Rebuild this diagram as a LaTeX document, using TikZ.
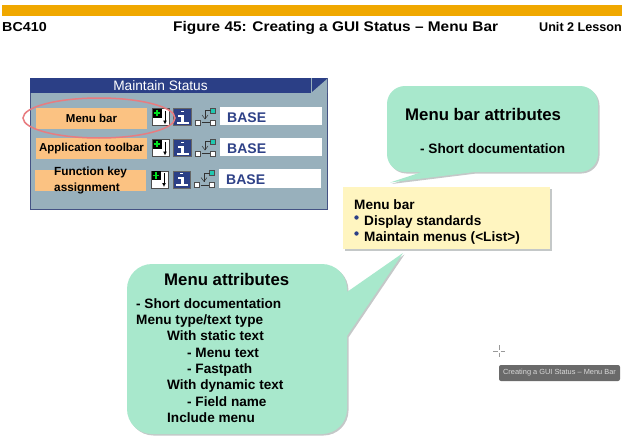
\documentclass[tikz,border=0pt]{standalone}
\usepackage{fontspec}
\usetikzlibrary{arrows.meta}
\setmainfont{Liberation Sans}
\newfontfamily\headfont[FakeStretch=1.1]{Liberation Sans}
\definecolor{sapgold}{HTML}{F0A800}
\definecolor{navy}{HTML}{2B3F86}
\definecolor{panelblue}{HTML}{98B0BC}
\definecolor{tabpeach}{HTML}{FBC282}
\definecolor{mint}{HTML}{A8E8CC}
\definecolor{cream}{HTML}{FFF5C0}
\definecolor{shadowgray}{HTML}{C4C8C8}
\definecolor{basetext}{HTML}{2F4288}
\definecolor{ringred}{HTML}{E87C80}
\definecolor{tipgray}{HTML}{6A6A6A}
\definecolor{plusgreen}{HTML}{00E020}
\definecolor{tealbox}{HTML}{20C8B0}
\tikzset{
  txt/.style={anchor=base west,inner sep=0pt,font=\bfseries\fontsize{13.6}{15}\selectfont},
  title/.style={anchor=base west,inner sep=0pt,font=\bfseries\fontsize{16.8}{18}\selectfont},
  headtxt/.style={anchor=base west,inner sep=0pt,font=\headfont\bfseries\fontsize{13}{15}\selectfont},
  tabbox/.style={fill=tabpeach,draw=none,inner sep=0pt,align=center,font=\bfseries\fontsize{11.5}{14.5}\selectfont},
  fieldbox/.style={fill=white,minimum width=102pt,minimum height=18.5pt,inner sep=0pt},
  basetxt/.style={anchor=base west,inner sep=0pt,text=basetext,font=\bfseries\fontsize{14}{16}\selectfont},
}
% icon macros, drawn at their top-left corner
\newcommand{\plusicon}[2]{%
  \fill[white] (#1,#2) rectangle ++(17,17);
  \draw[black!70,line width=.7pt] (#1,#2) rectangle ++(17,17);
  \fill[black] (#1,#2) rectangle ++(9,9);
  \draw[plusgreen,line width=1.8pt] (#1+1.2,#2+4.5) -- ++(6.6,0) (#1+4.5,#2+1.2) -- ++(0,6.6);
  \draw[black,line width=.9pt,-{Latex[length=4pt,width=4pt]}] (#1+12.5,#2+2) -- ++(0,14);
}
\newcommand{\infoicon}[2]{%
  \fill[navy] (#1,#2) rectangle ++(17.5,17);
  \draw[black!60,line width=.6pt] (#1,#2) rectangle ++(17.5,17);
  \fill[white] (#1+7,#2+2) rectangle ++(3,1.2);
  \fill[white] (#1+4.5,#2+6) rectangle ++(6,2);
  \fill[white] (#1+7.5,#2+6) rectangle ++(3,8);
  \fill[white] (#1+3,#2+13) rectangle ++(12,2.2);
}
\newcommand{\treeicon}[2]{%
  \fill[white,draw=black!70,line width=.5pt] (#1,#2+12) rectangle ++(5,5);
  \fill[white,draw=black!70,line width=.5pt] (#1+15,#2+12) rectangle ++(5,5);
  \fill[tealbox,draw=black!70,line width=.5pt] (#1+15,#2) rectangle ++(5,5);
  \draw[black!80,line width=.5pt] (#1+15,#2+2.5) -- (#1+9.5,#2+2.5) -- (#1+9.5,#2+11);
  \draw[black!80,line width=.5pt] (#1+6.5,#2+7) -- (#1+9.5,#2+11) -- (#1+12.5,#2+7);
  \draw[black!80,line width=.5pt] (#1+6,#2+14.5) -- (#1+14,#2+14.5);
}
\begin{document}
\begin{tikzpicture}[x=1pt,y=-1pt]
\useasboundingbox (0,0) rectangle (622,439);
\fill[white] (0,0) rectangle (622,439);
% header
\fill[sapgold] (2,5) rectangle (622,16);
\node[headtxt] (course) at (2,31) {BC410};
\node[headtxt,font=\headfont\bfseries\fontsize{14}{15}\selectfont] (fig) at (173,31) {Figure 45: Creating a GUI Status – Menu Bar};
\node[anchor=base west,inner sep=0pt,font=\bfseries\fontsize{12.6}{15}\selectfont] (unit) at (539,31) {Unit 2 Lesson};
% panel
\fill[panelblue] (30,78) rectangle (327,209);
\draw[navy!70!gray,line width=.6pt] (30,78) rectangle (327,209);
\fill[navy] (30,78) rectangle (327,93);
\fill[panelblue] (327,78) -- (327,79) -- (311,93) -- (327,93) -- cycle;
\draw[panelblue,line width=.7pt] (311,78) -- (311,93);
\node[text=white,inner sep=0pt,font=\fontsize{13.7}{15}\selectfont] (paneltitle) at (160.5,86) {Maintain Status};
% rows
\node[tabbox,minimum width=111pt,minimum height=21pt] (t1) at (91.5,118) {Menu bar};
\node[tabbox,minimum width=111pt,minimum height=21pt] (t2) at (91.5,148.5) {Application toolbar};
\node[tabbox,minimum width=111pt,minimum height=21pt] (t3) at (90.5,180) {};
\node[inner sep=0pt,anchor=west,align=left,font=\bfseries\fontsize{11.8}{15.4}\selectfont] (t3text) at (54,180.5) {Function key\\assignment};
\plusicon{152.5}{108.5}
\plusicon{152.5}{139.5}
\plusicon{151.5}{171}
\infoicon{173.5}{108.5}
\infoicon{173.5}{139.5}
\infoicon{173}{171}
\treeicon{195.5}{108}
\treeicon{195.5}{139}
\treeicon{194.5}{170.5}
\node[fieldbox] (f1) at (271,116) {};
\node[fieldbox] (f2) at (271,147) {};
\node[fieldbox] (f3) at (270,178.5) {};
\node[basetxt] (b1) at (227,122) {BASE};
\node[basetxt] (b2) at (227,153) {BASE};
\node[basetxt] (b3) at (226,184.5) {BASE};
\draw[ringred,line width=1.5pt] (99,118) ellipse [x radius=76,y radius=20];
% upper callout
\newcommand{\upperpath}{(405,86) -- (580,86) arc[start angle=-90,end angle=0,radius=18] -- (598,154) arc[start angle=0,end angle=90,radius=18] -- (475,172) -- (390,182.5) -- (422,172) -- (405,172) arc[start angle=90,end angle=180,radius=18] -- (387,104) arc[start angle=180,end angle=270,radius=18] -- cycle}
\fill[shadowgray,shift={(1.5,1.5)}] \upperpath;
\fill[mint] \upperpath;
\node[title] (ct1) at (405,120.5) {Menu bar attributes};
\node[txt] (ct2) at (420,153.5) {- Short documentation};
% yellow box
\fill[shadowgray] (345,189) rectangle (552,251);
\fill[cream] (343,187) rectangle (550,249);
\node[txt] (y1) at (354,209) {Menu bar};
\fill[navy] (356.5,217.5) circle [radius=2.2];
\node[txt] (y2) at (364,225) {Display standards};
\fill[navy] (356.5,233.5) circle [radius=2.2];
\node[txt] (y3) at (364,241) {Maintain menus (<List>)};
% lower callout
\newcommand{\lowerpath}{(152,264) -- (322,264) arc[start angle=-90,end angle=0,radius=25] -- (347,292) -- (403,253) -- (347,336) -- (347,409) arc[start angle=0,end angle=90,radius=25] -- (152,434) arc[start angle=90,end angle=180,radius=25] -- (127,289) arc[start angle=180,end angle=270,radius=25] -- cycle}
\fill[shadowgray,shift={(1.5,1.5)}] \lowerpath;
\fill[mint] \lowerpath;
\node[title] (l0) at (164,285) {Menu attributes};
\node[txt] (l1) at (136,308) {- Short documentation};
\node[txt] (l2) at (136,324.5) {Menu type/text type};
\node[txt] (l3) at (167,340.5) {With static text};
\node[txt] (l4) at (187,357) {- Menu text};
\node[txt] (l5) at (187,373) {- Fastpath};
\node[txt] (l6) at (167,389.5) {With dynamic text};
\node[txt] (l7) at (187,406) {- Field name};
\node[txt] (l8) at (167,422) {Include menu};
% cursor and tooltip
\draw[black!40,line width=.7pt] (493,351) -- (497.5,351) (500.5,351) -- (505,351) (499,345) -- (499,349.5) (499,352.5) -- (499,357);
\node[fill=tipgray,rounded corners=2pt,minimum width=121pt,minimum height=16pt,inner sep=0pt,text=white!85!black,font=\fontsize{7.4}{9}\selectfont] (tip) at (559.5,373) {Creating a GUI Status – Menu Bar};
\end{tikzpicture}
\end{document}
